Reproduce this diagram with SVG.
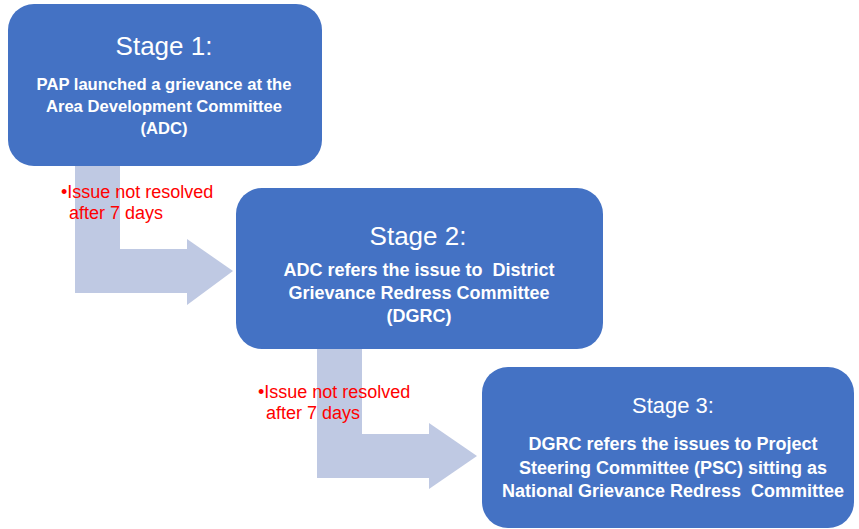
<svg xmlns="http://www.w3.org/2000/svg" width="859" height="529" viewBox="0 0 859 529">
<style>
.box{fill:#4472C4;}
.arrow{fill:#BFC9E3;}
.title{font-family:"Liberation Sans",Arial,sans-serif;font-size:26px;fill:#fff;text-anchor:middle;}
.t3{font-size:22px;}
.body{font-family:"Liberation Sans",Arial,sans-serif;font-size:18px;font-weight:bold;fill:#fff;text-anchor:middle;}
.b1{font-size:16.6px;}
.note{font-family:"Liberation Sans",Arial,sans-serif;font-size:18px;fill:#FF0000;}
</style>
<rect width="859" height="529" fill="#fff"/>
<g id="connectors">
<path class="arrow" d="M75,160 L120,160 L120,249 L187,249 L187,239 L233,271 L187,305 L187,293 L75,293 Z"/>
<path class="arrow" d="M317,345 L362,345 L362,434 L429,434 L429,423 L477,456 L429,489 L429,478 L317,478 Z"/>
<text class="note" x="61" y="198">•Issue not resolved</text>
<text class="note" x="69" y="219">after 7 days</text>
<text class="note" x="258" y="398">•Issue not resolved</text>
<text class="note" x="266" y="419">after 7 days</text>
</g>
<g id="stage1">
<rect class="box" x="8" y="4" width="314" height="162" rx="26"/>
<text class="title" x="164" y="55">Stage 1:</text>
<text class="body b1" x="164" y="90">PAP launched a grievance at the</text>
<text class="body b1" x="164" y="112">Area Development Committee</text>
<text class="body b1" x="164" y="134">(ADC)</text>
</g>
<g id="stage2">
<rect class="box" x="236" y="188" width="367" height="161" rx="26"/>
<text class="title" x="418" y="245">Stage 2:</text>
<text class="body" x="419" y="276" xml:space="preserve">ADC refers the issue to  District</text>
<text class="body" x="419" y="299">Grievance Redress Committee</text>
<text class="body" x="419" y="322">(DGRC)</text>
</g>
<g id="stage3">
<rect class="box" x="482" y="367" width="372" height="161" rx="26"/>
<text class="title t3" x="673" y="413">Stage 3:</text>
<text class="body" x="673" y="450">DGRC refers the issues to Project</text>
<text class="body" x="673" y="474">Steering Committee (PSC) sitting as</text>
<text class="body" x="673" y="497" xml:space="preserve">National Grievance Redress  Committee</text>
</g>
</svg>
